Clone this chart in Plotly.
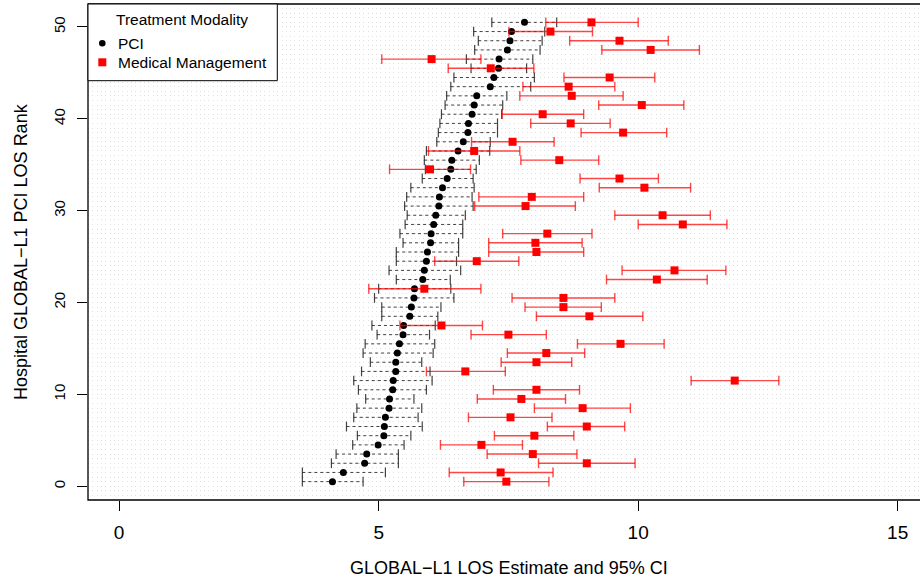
import numpy as np
import plotly.graph_objects as go

# Hospitals ordered from top of chart (highest PCI rank) to bottom
pci_est = [7.81, 7.56, 7.53, 7.48, 7.32, 7.31, 7.22, 7.15, 6.89, 6.84, 6.80, 6.73, 6.72, 6.63, 6.53, 6.41, 6.39,
           6.32, 6.23, 6.17, 6.16, 6.10, 6.06, 6.01, 6.00, 5.94, 5.92, 5.88, 5.85, 5.69, 5.68, 5.63, 5.60, 5.48,
           5.47, 5.40, 5.36, 5.33, 5.33, 5.28, 5.27, 5.21, 5.20, 5.13, 5.11, 5.10, 4.99, 4.77, 4.73, 4.32, 4.11]
pci_lo = [7.18, 6.83, 6.92, 6.85, 6.69, 6.78, 6.45, 6.39, 6.31, 6.28, 6.21, 6.18, 6.15, 6.12, 5.92, 5.88, 5.90,
          5.84, 5.62, 5.54, 5.50, 5.55, 5.51, 5.41, 5.47, 5.34, 5.34, 5.20, 5.34, 5.00, 4.92, 5.06, 5.06, 4.87,
          4.97, 4.74, 4.70, 4.84, 4.67, 4.52, 4.61, 4.75, 4.58, 4.52, 4.38, 4.59, 4.50, 4.18, 4.09, 3.53, 3.53]
pci_hi = [8.43, 8.20, 8.15, 8.11, 7.97, 7.85, 8.00, 7.93, 7.47, 7.39, 7.37, 7.29, 7.29, 7.15, 7.14, 6.94, 6.88,
          6.82, 6.84, 6.80, 6.82, 6.67, 6.62, 6.62, 6.54, 6.54, 6.50, 6.58, 6.38, 6.39, 6.45, 6.20, 6.14, 6.09,
          5.98, 6.08, 6.05, 5.83, 5.99, 6.03, 5.92, 5.68, 5.83, 5.76, 5.84, 5.62, 5.49, 5.38, 5.38, 5.13, 4.70]
mm_est = [9.10, 8.31, 9.64, 10.24, 6.02, 7.16, 9.45, 8.66, 8.72, 10.07, 8.16, 8.70, 9.71, 7.58, 6.84, 8.48, 5.99,
          9.64, 10.12, 7.95, 7.83, 10.47, 10.86, 8.25, 8.02, 8.04, 6.89, 10.70, 10.36, 5.88, 8.56, 8.56, 9.06, 6.21,
          7.50, 9.66, 8.23, 8.04, 6.67, 11.86, 8.04, 7.75, 8.93, 7.54, 9.01, 8.00, 6.98, 7.97, 9.01, 7.35, 7.46]
mm_lo = [8.22, 7.51, 8.68, 9.30, 5.06, 6.34, 8.57, 7.78, 7.72, 9.24, 7.38, 7.93, 8.90, 6.79, 5.96, 7.74, 5.21,
         8.88, 9.25, 6.93, 6.85, 9.55, 10.00, 7.39, 7.12, 7.12, 6.08, 9.69, 9.39, 4.81, 7.57, 7.82, 8.04, 5.41,
         6.78, 8.83, 7.48, 7.36, 5.92, 11.02, 7.21, 6.90, 8.00, 6.73, 8.25, 7.23, 6.19, 7.09, 8.08, 6.36, 6.64]
mm_hi = [10.00, 9.12, 10.58, 11.18, 6.97, 7.99, 10.32, 9.55, 9.71, 10.88, 8.95, 9.46, 10.55, 8.38, 7.72, 9.24,
         6.77, 10.39, 11.01, 8.95, 8.79, 11.39, 11.71, 9.11, 8.92, 8.95, 7.70, 11.69, 11.33, 6.97, 9.55, 9.29,
         10.09, 7.00, 8.23, 10.50, 8.97, 8.72, 7.44, 12.71, 8.87, 8.60, 9.85, 8.34, 9.74, 8.76, 7.77, 8.82, 9.94,
         8.36, 8.28]

n = len(pci_est)
rank = np.arange(n)[::-1] + 0.5  # plotted rank position

x_ticks = [0, 5, 10, 15]
y_ticks = [0, 10, 20, 30, 40, 50]
x_title = "GLOBAL\u2212L1 LOS Estimate and 95% CI"
y_title = "Hospital GLOBAL\u2212L1 PCI LOS Rank"
legend_title = "Treatment Modality"
series_names = ["PCI", "Medical Management"]

FONT = "Liberation Sans, Arial, Helvetica, sans-serif"
RED_LINE = "rgba(255,0,0,0.72)"
BLACK_LINE = "rgba(20,20,20,0.8)"
GRID = "#e0e0e0"


def segs(lo, hi, ys):
    xs, yy = [], []
    for a, b, y in zip(lo, hi, ys):
        xs += [a, b, None]
        yy += [y, y, None]
    return xs, yy


fig = go.Figure()

# PCI: dashed CI lines, caps, points
sx, sy = segs(pci_lo, pci_hi, rank)
fig.add_trace(go.Scatter(x=sx, y=sy, mode="lines", line=dict(color=BLACK_LINE, width=1, dash="3px,3px"),
                         showlegend=False, hoverinfo="skip"))
fig.add_trace(go.Scatter(x=list(pci_lo) + list(pci_hi), y=list(rank) + list(rank), mode="markers",
                         marker=dict(symbol="line-ns", size=7, line=dict(color=BLACK_LINE, width=1.2)),
                         showlegend=False, hoverinfo="skip"))
fig.add_trace(go.Scatter(x=pci_est, y=rank, mode="markers", name=series_names[0],
                         marker=dict(symbol="circle", size=7, color="black"), showlegend=False))

# Medical management: solid red CI lines, caps, squares
sx, sy = segs(mm_lo, mm_hi, rank)
fig.add_trace(go.Scatter(x=sx, y=sy, mode="lines", line=dict(color=RED_LINE, width=1.4),
                         showlegend=False, hoverinfo="skip"))
fig.add_trace(go.Scatter(x=list(mm_lo) + list(mm_hi), y=list(rank) + list(rank), mode="markers",
                         marker=dict(symbol="line-ns", size=7, line=dict(color=RED_LINE, width=1.4)),
                         showlegend=False, hoverinfo="skip"))
fig.add_trace(go.Scatter(x=mm_est, y=rank, mode="markers", name=series_names[1],
                         marker=dict(symbol="square", size=8, color="red"), showlegend=False))

W, H = 920, 581
L, R, T, B = 88, 0, 4, 81
pw = W - L - R
ph = H - T - B


def px2paper_x(px):
    return (px - L) / pw


def px2paper_y(py):
    return (H - B - py) / ph


shapes = [
    # plot frame (right side falls outside the canvas, as in the reference)
    dict(type="rect", xref="paper", yref="paper", x0=0, x1=1.05, y0=0, y1=1,
         line=dict(color="black", width=1.3), layer="above"),
    # legend box
    dict(type="rect", xref="paper", yref="paper", x0=0, x1=px2paper_x(277.3),
         y0=px2paper_y(80.7), y1=1, line=dict(color="black", width=1), fillcolor="white", layer="above"),
    dict(type="circle", xref="paper", yref="paper", xsizemode="pixel", ysizemode="pixel",
         xanchor=px2paper_x(102.3), yanchor=px2paper_y(43.3), x0=-3.3, x1=3.3, y0=-3.3, y1=3.3,
         fillcolor="black", line=dict(width=0), layer="above"),
    dict(type="rect", xref="paper", yref="paper", xsizemode="pixel", ysizemode="pixel",
         xanchor=px2paper_x(102.3), yanchor=px2paper_y(62.3), x0=-4, x1=4, y0=-4, y1=4,
         fillcolor="red", line=dict(width=0), layer="above"),
]

annotations = [
    dict(text=legend_title, xref="paper", yref="paper", x=px2paper_x(181.7), y=px2paper_y(19),
         xanchor="center", yanchor="middle", showarrow=False, font=dict(family=FONT, size=15.5, color="black")),
    dict(text=series_names[0], xref="paper", yref="paper", x=px2paper_x(115.5), y=px2paper_y(43.3),
         xanchor="left", yanchor="middle", showarrow=False, font=dict(family=FONT, size=15.5, color="black")),
    dict(text=series_names[1], xref="paper", yref="paper", x=px2paper_x(115.5), y=px2paper_y(62.3),
         xanchor="left", yanchor="middle", showarrow=False, font=dict(family=FONT, size=15.5, color="black")),
    dict(text=x_title, xref="paper", yref="paper", x=px2paper_x(508.7), y=px2paper_y(567.7),
         xanchor="center", yanchor="middle", showarrow=False, font=dict(family=FONT, size=18, color="black")),
    dict(text=y_title, xref="paper", yref="paper", x=px2paper_x(21), y=0.5, textangle=-90,
         xanchor="center", yanchor="middle", showarrow=False, font=dict(family=FONT, size=18, color="black")),
]

fig.update_layout(
    width=W, height=H,
    margin=dict(l=L, r=R, t=T, b=B, pad=0),
    paper_bgcolor="white", plot_bgcolor="white",
    font=dict(family=FONT, color="black"),
    showlegend=False,
    shapes=shapes,
    annotations=annotations,
    xaxis=dict(range=[-0.6, 15.43], tickmode="array", tickvals=x_ticks, ticktext=[str(v) for v in x_ticks],
               ticks="outside", ticklen=10, tickwidth=1, tickcolor="black",
               tickfont=dict(family=FONT, size=19, color="black"), ticklabelstandoff=5,
               showgrid=False, zeroline=False, showline=False, automargin=False),
    yaxis=dict(range=[-1.5, 52.5], tickmode="array", tickvals=y_ticks, ticktext=[str(v) for v in y_ticks],
               ticks="outside", ticklen=10, tickwidth=1, tickcolor="black", tickangle=-90,
               tickfont=dict(family=FONT, size=15, color="black"), ticklabelstandoff=6,
               showgrid=True, gridcolor=GRID, griddash="1px,3.3px", gridwidth=1,
               minor=dict(tickmode="linear", tick0=0, dtick=0.5, showgrid=True, gridcolor=GRID,
                          griddash="1px,3.3px", gridwidth=1, ticks=""),
               zeroline=False, showline=False, automargin=False),
)

fig.write_html("out.html", config={"displayModeBar": False},
               post_script="document.body.style.margin='0px';document.body.style.overflow='hidden';")
